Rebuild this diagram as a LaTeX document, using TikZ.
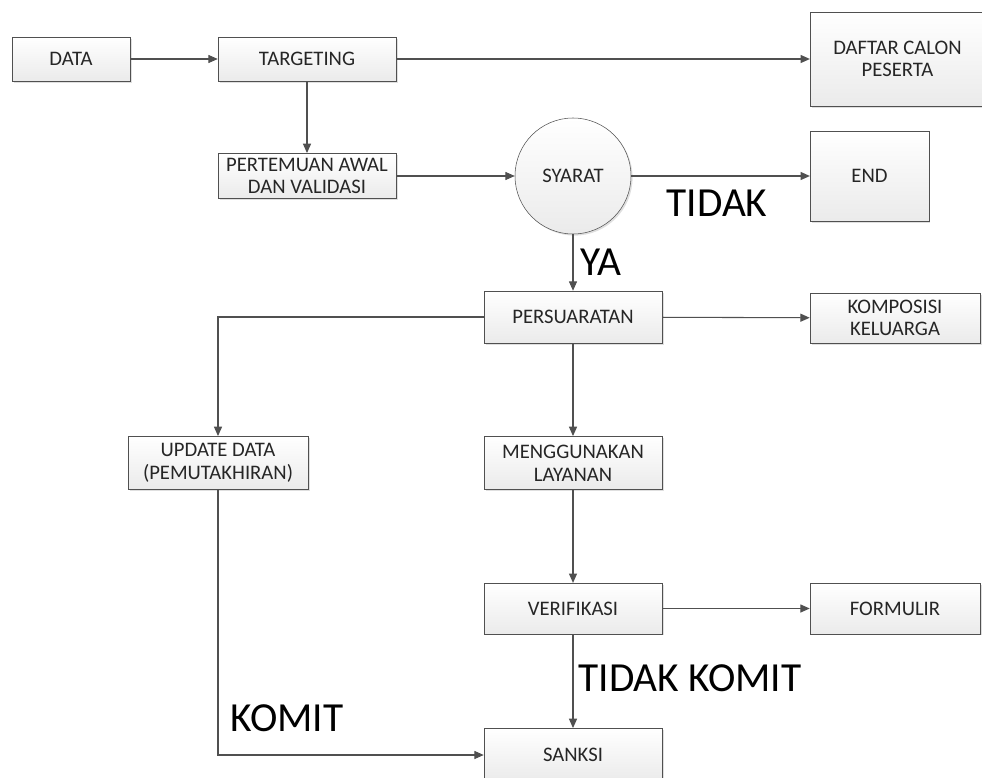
\documentclass[tikz,border=0pt]{standalone}
\usepackage{fontspec}
\setmainfont{Carlito}
\usepackage{xcolor}
\usepackage{tikz}
\usetikzlibrary{arrows.meta,shadows}

\definecolor{linegray}{HTML}{505050}
\definecolor{textgray}{HTML}{262626}

\tikzset{
  proc/.style={draw=linegray, rectangle, top color=white, bottom color=gray!16,
    drop shadow={shadow xshift=1.2pt, shadow yshift=-1.2pt, opacity=0.25},
    text=textgray, align=center, inner sep=0pt,
    font=\fontsize{15.5}{17}\selectfont,
    minimum width=133.5pt, minimum height=34pt},
  cond/.style={draw=linegray, circle, top color=white, bottom color=gray!16,
    drop shadow={shadow xshift=1.2pt, shadow yshift=-1.2pt, opacity=0.25},
    text=textgray, inner sep=0pt, minimum size=87pt,
    font=\fontsize{15.5}{17}\selectfont},
  flow/.style={draw=linegray, line width=0.8pt, -{Triangle[length=7pt,width=6pt]}},
  biglabel/.style={inner sep=0pt, font=\fontsize{31}{33}\selectfont}
}

\begin{document}
\begin{tikzpicture}[x=0.75pt, y=-0.75pt]
    \clip (0,0) rectangle (982,778);

    % Nodes
    \node[proc, minimum width=88.5pt, minimum height=33pt] (data) at (71,59) {DATA};
    \node[proc, minimum height=33pt] (targeting) at (307,59) {TARGETING};
    \node[proc, minimum width=131pt, minimum height=70.5pt] (daftar) at (897.5,59) {DAFTAR CALON\\PESERTA};
    \node[proc, minimum height=34pt] (pertemuan) at (307,176) {PERTEMUAN AWAL\\DAN VALIDASI};
    \node[cond] (syarat) at (573,176) {SYARAT};
    \node[proc, minimum width=89pt, minimum height=67.5pt] (end) at (869.5,176) {END};
    \node[proc, minimum height=39pt] (persuaratan) at (573,317) {PERSUARATAN};
    \node[proc, minimum width=127.5pt, minimum height=37.5pt] (komposisi) at (895,318) {KOMPOSISI\\KELUARGA};
    \node[proc, minimum width=135pt, minimum height=40pt] (update) at (218,463) {UPDATE DATA\\(PEMUTAKHIRAN)};
    \node[proc, minimum height=40pt] (layanan) at (573,463) {MENGGUNAKAN\\LAYANAN};
    \node[proc, minimum height=38pt] (verifikasi) at (573,608.5) {VERIFIKASI};
    \node[proc, minimum width=127.5pt, minimum height=38pt] (formulir) at (895,608.5) {FORMULIR};
    \node[proc, minimum height=40pt] (sanksi) at (573,755) {SANKSI};

    % Connectors
    \draw[flow] (data) -- (targeting);
    \draw[flow] (targeting) -- (daftar);
    \draw[flow] (targeting) -- (pertemuan);
    \draw[flow] (pertemuan) -- (syarat);
    \draw[flow] (syarat) -- (end);
    \draw[flow] (syarat) -- (persuaratan);
    \draw[flow] (persuaratan) -- (komposisi);
    \draw[flow] (persuaratan.west) -| (update.north);
    \draw[flow] (persuaratan) -- (layanan);
    \draw[flow] (layanan) -- (verifikasi);
    \draw[flow] (verifikasi) -- (formulir);
    \draw[flow] (verifikasi) -- (sanksi);
    \draw[flow] (update.south) |- (sanksi.west);

    % Labels
    \node[biglabel] (tidak) at (717,203) {TIDAK};
    \node[biglabel] (ya) at (601,262) {YA};
    \node[biglabel] (tidakkomit) at (690,678) {TIDAK KOMIT};
    \node[biglabel] (komit) at (287,718) {KOMIT};
\end{tikzpicture}
\end{document}
